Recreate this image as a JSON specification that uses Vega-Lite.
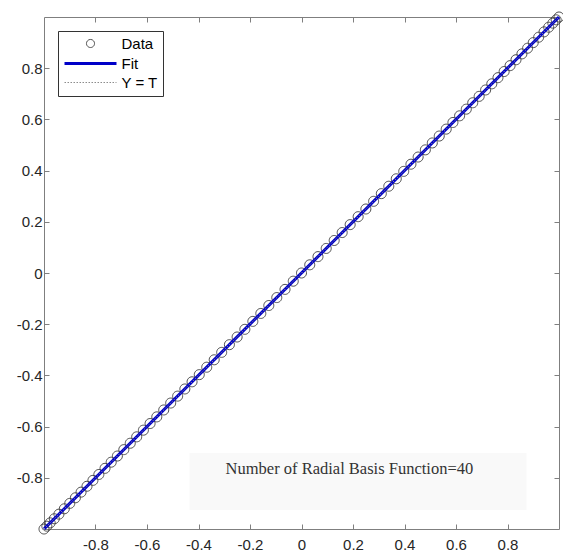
{
  "$schema": "https://vega.github.io/schema/vega-lite/v6.json",
  "width": 515,
  "height": 512,
  "autosize": {"type": "none"},
  "padding": {"left": 44, "top": 17, "right": 4, "bottom": 26},
  "background": "white",
  "config": {
    "view": {"stroke": "#7f7f7f", "strokeWidth": 1},
    "font": "Liberation Sans",
    "axis": {
      "domain": false,
      "grid": false,
      "tickColor": "#7f7f7f",
      "tickSize": -5,
      "labelFont": "Liberation Sans",
      "labelFontSize": 15,
      "labelColor": "#262626",
      "title": null
    },
    "legend": {
      "orient": "top-left",
      "offset": 14,
      "padding": 5,
      "fillColor": "white",
      "strokeColor": "#333333",
      "labelFont": "Liberation Sans",
      "labelFontSize": 15,
      "labelColor": "#000000",
      "symbolSize": 169,
      "symbolOffset": 19.5,
      "labelOffset": 23,
      "rowPadding": 3.5
    }
  },
  "datasets": {
    "pts": [
      {"x": -1.0, "series": "Data"}, {"x": -0.989, "series": "Data"}, {"x": -0.976, "series": "Data"}, {"x": -0.96, "series": "Data"},
      {"x": -0.942, "series": "Data"}, {"x": -0.921, "series": "Data"}, {"x": -0.9, "series": "Data"}, {"x": -0.878, "series": "Data"},
      {"x": -0.856, "series": "Data"}, {"x": -0.833, "series": "Data"}, {"x": -0.81, "series": "Data"}, {"x": -0.787, "series": "Data"},
      {"x": -0.763, "series": "Data"}, {"x": -0.739, "series": "Data"}, {"x": -0.715, "series": "Data"}, {"x": -0.69, "series": "Data"},
      {"x": -0.665, "series": "Data"}, {"x": -0.64, "series": "Data"}, {"x": -0.614, "series": "Data"}, {"x": -0.588, "series": "Data"},
      {"x": -0.562, "series": "Data"}, {"x": -0.535, "series": "Data"}, {"x": -0.508, "series": "Data"}, {"x": -0.481, "series": "Data"},
      {"x": -0.453, "series": "Data"}, {"x": -0.425, "series": "Data"}, {"x": -0.397, "series": "Data"}, {"x": -0.368, "series": "Data"},
      {"x": -0.339, "series": "Data"}, {"x": -0.31, "series": "Data"}, {"x": -0.28, "series": "Data"}, {"x": -0.25, "series": "Data"},
      {"x": -0.22, "series": "Data"}, {"x": -0.189, "series": "Data"}, {"x": -0.158, "series": "Data"}, {"x": -0.127, "series": "Data"},
      {"x": -0.096, "series": "Data"}, {"x": -0.064, "series": "Data"}, {"x": -0.032, "series": "Data"}, {"x": 0.0, "series": "Data"},
      {"x": 0.032, "series": "Data"}, {"x": 0.064, "series": "Data"}, {"x": 0.096, "series": "Data"}, {"x": 0.127, "series": "Data"},
      {"x": 0.158, "series": "Data"}, {"x": 0.189, "series": "Data"}, {"x": 0.22, "series": "Data"}, {"x": 0.25, "series": "Data"},
      {"x": 0.28, "series": "Data"}, {"x": 0.31, "series": "Data"}, {"x": 0.339, "series": "Data"}, {"x": 0.368, "series": "Data"},
      {"x": 0.397, "series": "Data"}, {"x": 0.425, "series": "Data"}, {"x": 0.453, "series": "Data"}, {"x": 0.481, "series": "Data"},
      {"x": 0.508, "series": "Data"}, {"x": 0.535, "series": "Data"}, {"x": 0.562, "series": "Data"}, {"x": 0.588, "series": "Data"},
      {"x": 0.614, "series": "Data"}, {"x": 0.64, "series": "Data"}, {"x": 0.665, "series": "Data"}, {"x": 0.69, "series": "Data"},
      {"x": 0.715, "series": "Data"}, {"x": 0.739, "series": "Data"}, {"x": 0.763, "series": "Data"}, {"x": 0.787, "series": "Data"},
      {"x": 0.81, "series": "Data"}, {"x": 0.833, "series": "Data"}, {"x": 0.856, "series": "Data"}, {"x": 0.878, "series": "Data"},
      {"x": 0.9, "series": "Data"}, {"x": 0.921, "series": "Data"}, {"x": 0.942, "series": "Data"}, {"x": 0.96, "series": "Data"},
      {"x": 0.976, "series": "Data"}, {"x": 0.989, "series": "Data"}, {"x": 1.0, "series": "Data"}
    ],
    "fit": [{"x": -1, "y": -1}, {"x": 1, "y": 1}],
    "box": [{"x": -0.435, "x2": 0.874, "y": -0.703, "y2": -0.926}],
    "note": [{"x": 0.186, "y": -0.766, "label": "Number of Radial Basis Function=40"}]
  },
  "resolve": {"axis": {"x": "independent", "y": "independent"}},
  "layer": [
    {
      "data": {"name": "box"},
      "mark": {"type": "rect", "fill": "#f9f9f9"},
      "encoding": {
        "x": {"field": "x", "type": "quantitative", "scale": {"domain": [-1, 1], "nice": false, "zero": false}, "axis": {"orient": "top", "values": [-0.8, -0.6, -0.4, -0.2, 0, 0.2, 0.4, 0.6, 0.8], "labels": false}},
        "x2": {"field": "x2"},
        "y": {"field": "y", "type": "quantitative", "scale": {"domain": [-1, 1], "nice": false, "zero": false}, "axis": {"orient": "right", "values": [-0.8, -0.6, -0.4, -0.2, 0, 0.2, 0.4, 0.6, 0.8], "labels": false}},
        "y2": {"field": "y2"}
      }
    },
    {
      "data": {"name": "note"},
      "mark": {"type": "text", "font": "Liberation Serif", "fontSize": 16.5, "color": "#333333", "align": "center", "baseline": "middle"},
      "encoding": {
        "x": {"field": "x", "type": "quantitative", "axis": null},
        "y": {"field": "y", "type": "quantitative", "axis": null},
        "text": {"field": "label"}
      }
    },
    {
      "data": {"name": "pts"},
      "mark": {"type": "point", "filled": false, "size": 260, "clip": false, "opacity": 1},
      "encoding": {
        "x": {"field": "x", "type": "quantitative", "axis": {"orient": "bottom", "values": [-0.8, -0.6, -0.4, -0.2, 0, 0.2, 0.4, 0.6, 0.8], "labelExpr": "'' + datum.value", "labelPadding": 13}},
        "y": {"field": "x", "type": "quantitative", "axis": {"orient": "left", "values": [-0.8, -0.6, -0.4, -0.2, 0, 0.2, 0.4, 0.6, 0.8], "labelExpr": "'' + datum.value", "labelPadding": 7}},
        "color": {
          "field": "series",
          "type": "nominal",
          "title": null,
          "scale": {"domain": ["Data", "Fit", "Y = T"], "range": ["#3a3a3a", "#0000c8", "#8c8c8c"]}
        },
        "shape": {
          "field": "series",
          "type": "nominal",
          "title": null,
          "scale": {"domain": ["Data", "Fit", "Y = T"], "range": ["M0.62,0A0.62,0.62 0 1 1 -0.62,0A0.62,0.62 0 1 1 0.62,0Z", "M-4,0H4", "M-4,0H4"]}
        },
        "strokeWidth": {
          "field": "series",
          "type": "nominal",
          "title": null,
          "scale": {"type": "ordinal", "domain": ["Data", "Fit", "Y = T"], "range": [0.9, 3, 1]}
        },
        "strokeDash": {
          "field": "series",
          "type": "nominal",
          "title": null,
          "scale": {"domain": ["Data", "Fit", "Y = T"], "range": [[1, 0], [1, 0], [1.5, 1.5]]}
        }
      }
    },
    {
      "data": {"name": "fit"},
      "mark": {"type": "line", "color": "#0000c8", "strokeWidth": 3},
      "encoding": {
        "x": {"field": "x", "type": "quantitative", "axis": null},
        "y": {"field": "y", "type": "quantitative", "axis": null}
      }
    },
    {
      "data": {"name": "fit"},
      "mark": {"type": "line", "color": "#8c8c8c", "strokeWidth": 1, "strokeDash": [1.5, 1.5]},
      "encoding": {
        "x": {"field": "x", "type": "quantitative", "axis": null},
        "y": {"field": "y", "type": "quantitative", "axis": null}
      }
    }
  ]
}
